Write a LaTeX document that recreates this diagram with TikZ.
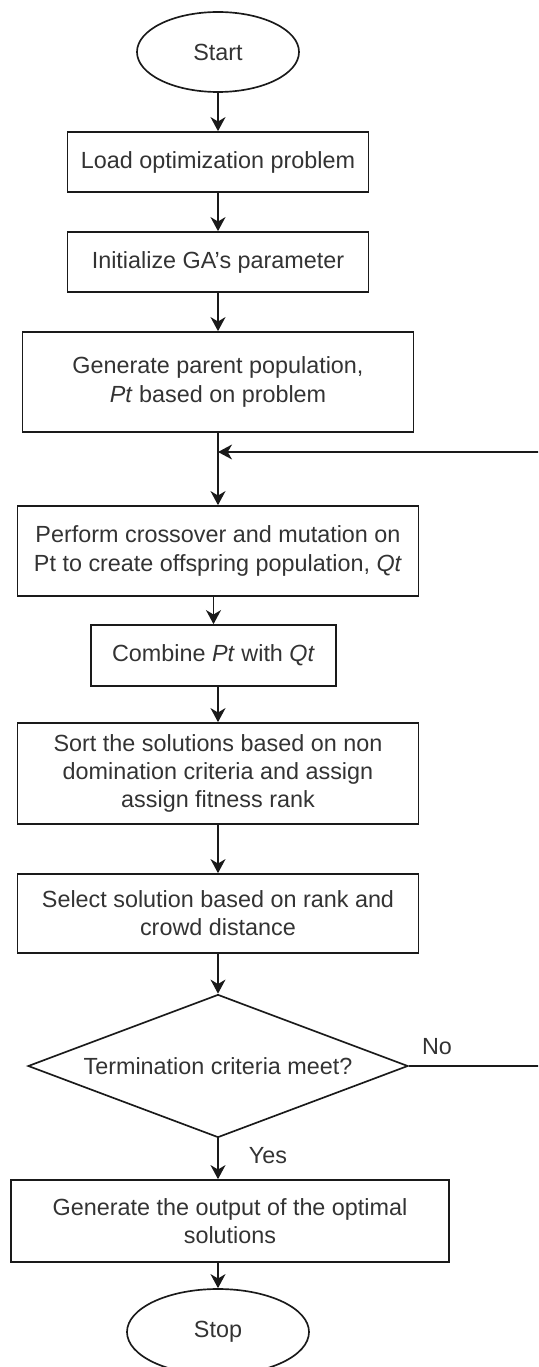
\documentclass[tikz,border=0pt]{standalone}
\usepackage{fontspec}
\setmainfont{Liberation Sans}
\usetikzlibrary{arrows.meta, shapes.geometric}
\definecolor{fcline}{HTML}{1A1A1A}
\definecolor{fctext}{HTML}{333333}

\begin{document}
\begin{tikzpicture}[every node/.style={font=\fontsize{13.3}{16}\selectfont, text=fctext},
  stepbox/.style={rectangle, draw=fcline, line width=0.95pt, align=center, inner sep=0pt},
  terminal/.style={ellipse, draw=fcline, line width=0.95pt, inner sep=0pt},
  decision/.style={diamond, draw=fcline, line width=0.95pt, inner sep=0pt, aspect=2.66, minimum width=7.6cm, minimum height=2.86cm},
  flow/.style={-{Stealth[length=8pt, width=8.5pt, inset=2.5pt]}, fcline, line width=0.95pt},
]
\useasboundingbox (0,0) rectangle (10.76,-27.34);
\clip (0,0) rectangle (10.76,-27.34);
\node[terminal, minimum width=3.24cm, minimum height=1.6cm] (start) at (4.36, -1.04) {Start};
\node[stepbox, minimum width=6.02cm, minimum height=1.2cm] (load) at (4.36, -3.24) {Load optimization problem};
\node[stepbox, minimum width=6.02cm, minimum height=1.2cm] (init) at (4.36, -5.24) {Initialize GA's parameter};
\node[stepbox, minimum width=7.82cm, minimum height=2.0cm] (gen) at (4.36, -7.64) {Generate parent population,\\\textit{Pt} based on problem};
\coordinate (join) at (4.36, -9.04);
\node[stepbox, minimum width=8.02cm, minimum height=1.8cm] (perf) at (4.36, -11.02) {Perform crossover and mutation on\\Pt to create offspring population, \textit{Qt}};
\node[stepbox, minimum width=4.9cm, minimum height=1.22cm] (comb) at (4.27, -13.11) {Combine \textit{Pt} with \textit{Qt}};
\node[stepbox, minimum width=8.02cm, minimum height=2.02cm] (sort) at (4.36, -15.47) {Sort the solutions based on non\\domination criteria and assign\\assign fitness rank};
\node[stepbox, minimum width=8.02cm, minimum height=1.58cm] (sel) at (4.36, -18.27) {Select solution based on rank and\\crowd distance};
\node[decision] (term) at (4.36, -21.32) {Termination criteria meet?};
\node[stepbox, minimum width=8.76cm, minimum height=1.64cm] (out) at (4.60, -24.42) {Generate the output of the optimal\\solutions};
\node[terminal, minimum width=3.64cm, minimum height=1.72cm] (stop) at (4.36, -26.64) {Stop};
\coordinate (loop) at (11.2, -9.04);
\node (no) at (8.74, -20.94) {No};
\node (yes) at (5.36, -23.12) {Yes};
\draw[flow] (start) -- (load);
\draw[flow] (load) -- (init);
\draw[flow] (init) -- (gen);
\draw[flow] (gen) -- (perf);
\draw[flow] (perf.south -| comb.north) -- (comb.north);
\draw[flow] (comb.south -| sort.north) -- (sort.north);
\draw[flow] (sort) -- (sel);
\draw[flow] (sel) -- (term);
\draw[flow] (term.south) -- (term.south |- out.north);
\draw[flow] (out.south -| stop.north) -- (stop.north);
\draw[flow] (term.east) -| (loop) -- (join);
\end{tikzpicture}
\end{document}
